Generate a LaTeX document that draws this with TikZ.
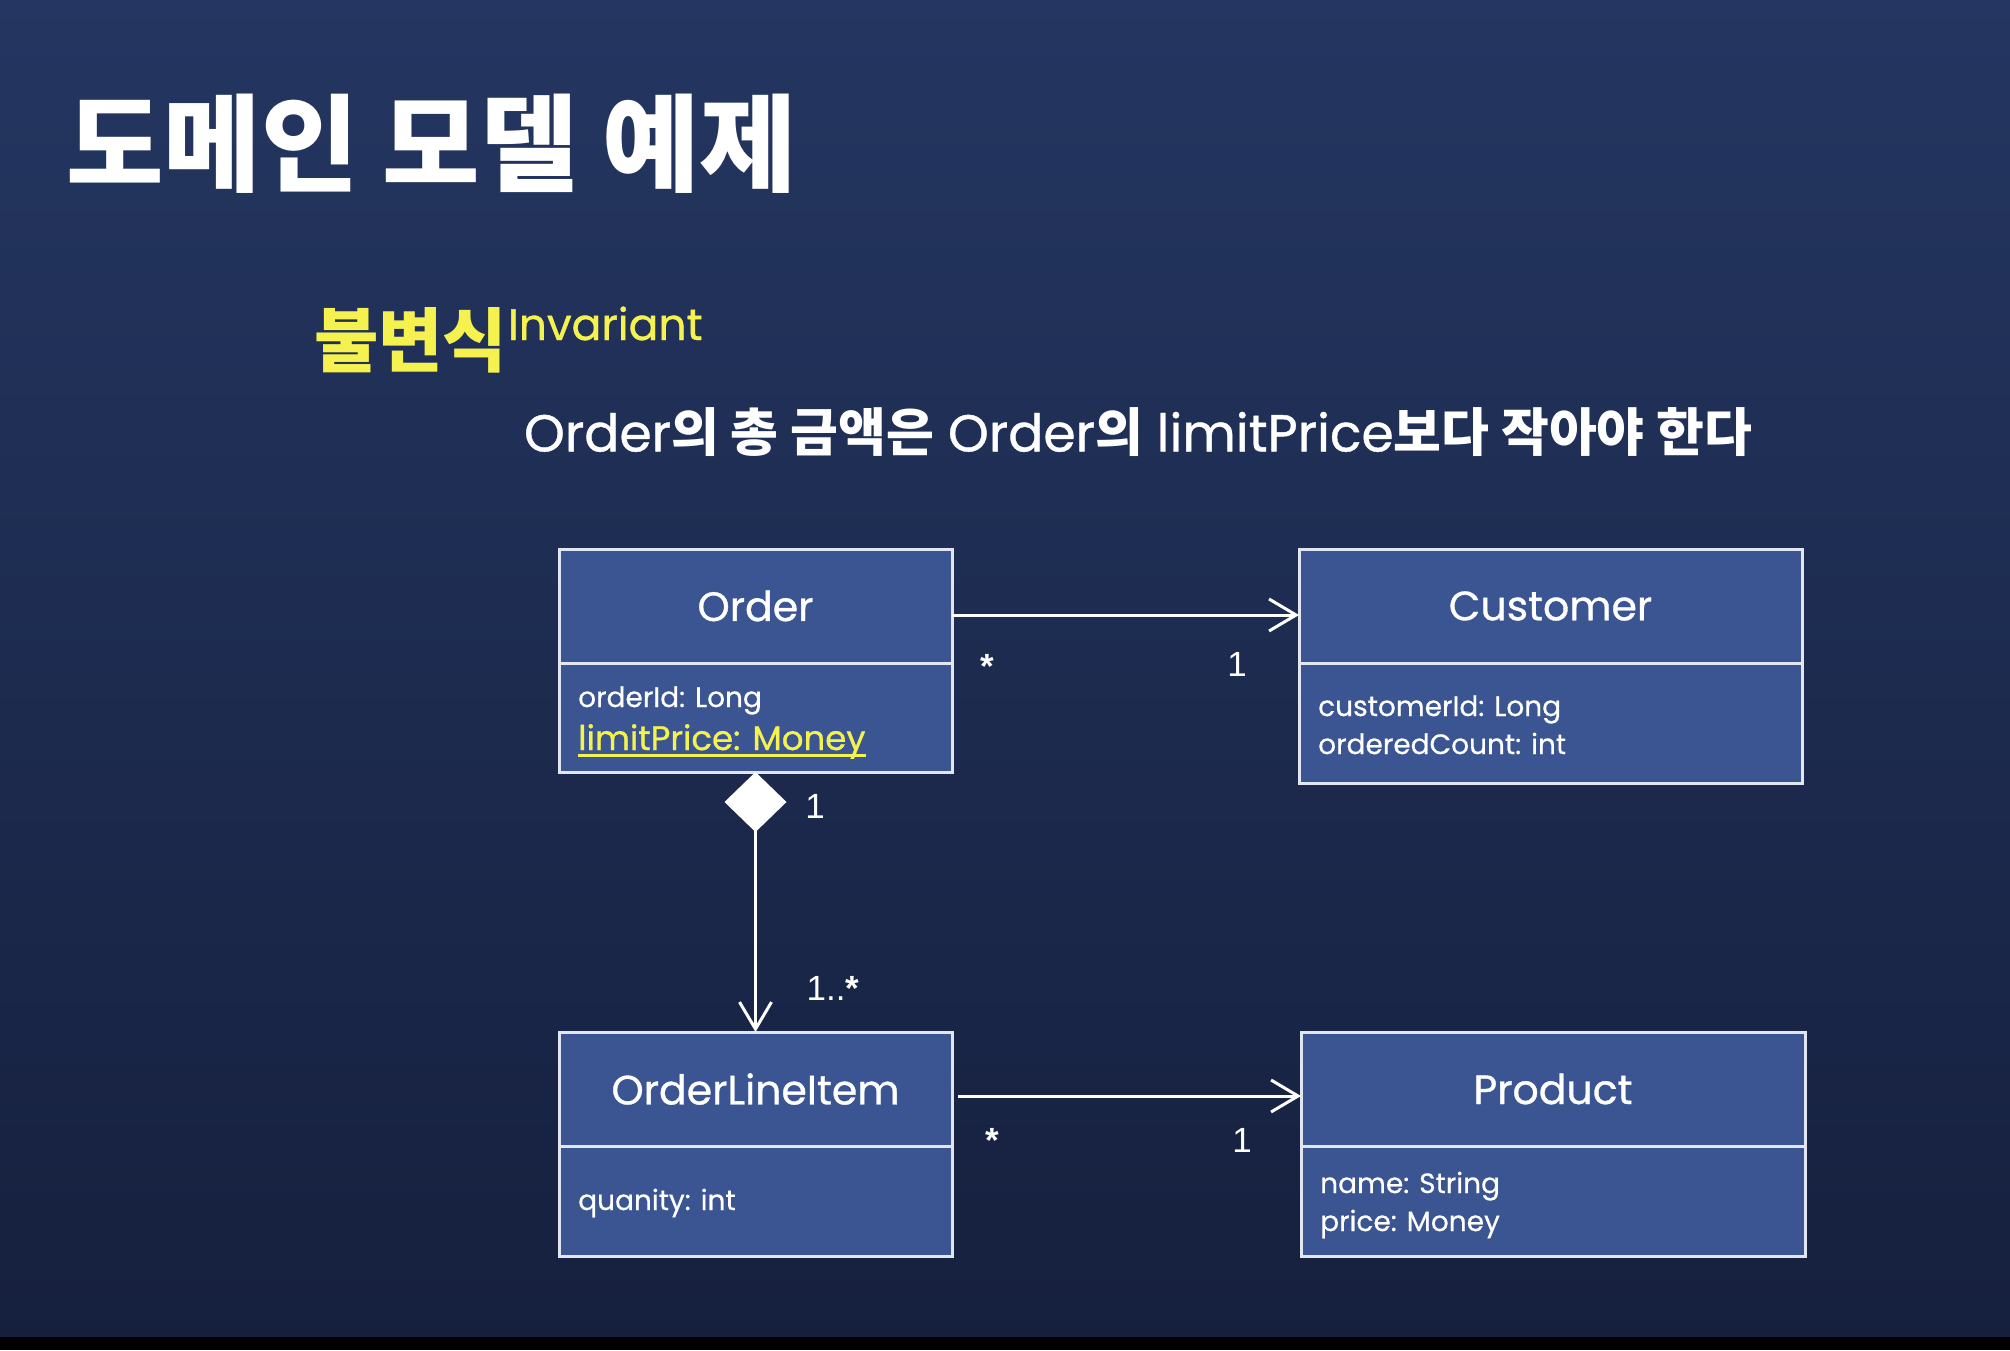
\documentclass[tikz,border=0pt]{standalone}
\usepackage{fontspec}
\setmainfont{Poppins}
\newfontfamily\kr{Noto Sans CJK KR}
\newfontfamily\lab{Liberation Sans}
\newfontfamily\popmed[FakeBold=0.8]{Poppins}
\newfontfamily\poplt[FakeBold=0.5]{Poppins}
\usetikzlibrary{arrows.meta}
\definecolor{bgtop}{RGB}{36,54,97}
\definecolor{bgbot}{RGB}{22,32,62}
\definecolor{boxfill}{RGB}{58,85,146}
\definecolor{boxline}{RGB}{225,230,240}
\definecolor{hl}{RGB}{245,242,80}
\newcommand{\hg}[1]{{\kr\bfseries #1}}
\begin{document}
\begin{tikzpicture}[x=1pt,y=-1pt,
  head/.style={draw=boxline, line width=3pt, fill=boxfill, inner sep=0pt, outer sep=0pt, text=white, font=\popmed\fontsize{41}{49}\selectfont},
  attrbox/.style={draw=boxline, line width=3pt, fill=boxfill, inner sep=0pt, outer sep=0pt},
  attr/.style={anchor=base west, inner sep=0pt, text=white, font=\poplt\fontsize{28}{32}\selectfont},
  mult/.style={inner sep=0pt, text=white, font=\lab\fontsize{35}{40}\selectfont},
  assoc/.style={draw=white, line width=3pt, -{Straight Barb[length=27pt,width=32pt]}},
  plain/.style={inner sep=0pt, outer sep=0pt}
]
\useasboundingbox (0,0) rectangle (2010,1350);
\shade[top color=bgtop, bottom color=bgbot] (0,0) rectangle (2010,1337);
\fill[black] (0,1337) rectangle (2010,1350);

% titles
\node[plain, anchor=west, text=white, font=\kr\bfseries\fontsize{106}{120}\selectfont] (title) at (66,144) {도메인 모델 예제};
\node[plain, anchor=west, text=hl, font=\kr\bfseries\fontsize{70}{80}\selectfont] (inv) at (314,340) {불변식};
\node[plain, anchor=base west, text=hl, font=\popmed\fontsize{44}{52}\selectfont] (invlat) at (508,340) {Invariant};
\node[plain, anchor=west, text=white, font=\popmed\fontsize{52}{60}\selectfont] (rule) at (524,432) {Order\hg{의 총 금액은} Order\hg{의} limitPrice\hg{보다 작아야 한다}};

% classes
\node[head, minimum width=393, minimum height=114] (orderhead) at (755.5,606) {Order};
\node[attrbox, minimum width=393, minimum height=109] (orderattr) at (755.5,717.5) {};
\node[head, minimum width=503, minimum height=114] (custhead) at (1550.5,606) {Customer};
\node[attrbox, minimum width=503, minimum height=120] (custattr) at (1550.5,723) {};
\node[head, minimum width=393, minimum height=114] (olihead) at (755.5,1089) {OrderLineItem};
\node[attrbox, minimum width=393, minimum height=110] (oliattr) at (755.5,1201) {};
\node[head, minimum width=504, minimum height=114] (prodhead) at (1553,1089) {Product};
\node[attrbox, minimum width=504, minimum height=110] (prodattr) at (1553,1201) {};

% attributes
\node[attr] (oid) at (578,707) {orderId: Long};
\node[attr, text=hl, font=\popmed\fontsize{34}{40}\selectfont] (lp) at (578,750) {limitPrice: Money};
\draw[hl, line width=3pt] ([yshift=-5pt]lp.base west) -- ([yshift=-5pt]lp.base east);
\node[attr] (cid) at (1318,716) {customerId: Long};
\node[attr] (ocnt) at (1318,754) {orderedCount: int};
\node[attr] (qty) at (578,1210) {quanity: int};
\node[attr] (pname) at (1320,1193) {name: String};
\node[attr] (pprice) at (1320,1231) {price: Money};

% connectors
\draw[assoc] ([yshift=-9pt]orderhead.east) -- ([yshift=-9pt]custhead.west);
\draw[assoc] ([xshift=6pt,yshift=-7pt]olihead.east) -- ([yshift=-7pt]prodhead.west);
\draw[draw=white, line width=3pt, {Diamond[length=60pt,width=62pt,fill=white]}-{Straight Barb[length=27pt,width=32pt]}] (orderattr.south) -- (olihead.north);

% multiplicities
\node[mult] (m1) at (987,666) {\bfseries *};
\node[mult] (m2) at (1237,664) {1};
\node[mult] (m3) at (815,806) {1};
\node[mult] (m4) at (833,988) {1..\textbf{*}};
\node[mult] (m5) at (992,1140) {\bfseries *};
\node[mult] (m6) at (1242,1140) {1};
\end{tikzpicture}
\end{document}
